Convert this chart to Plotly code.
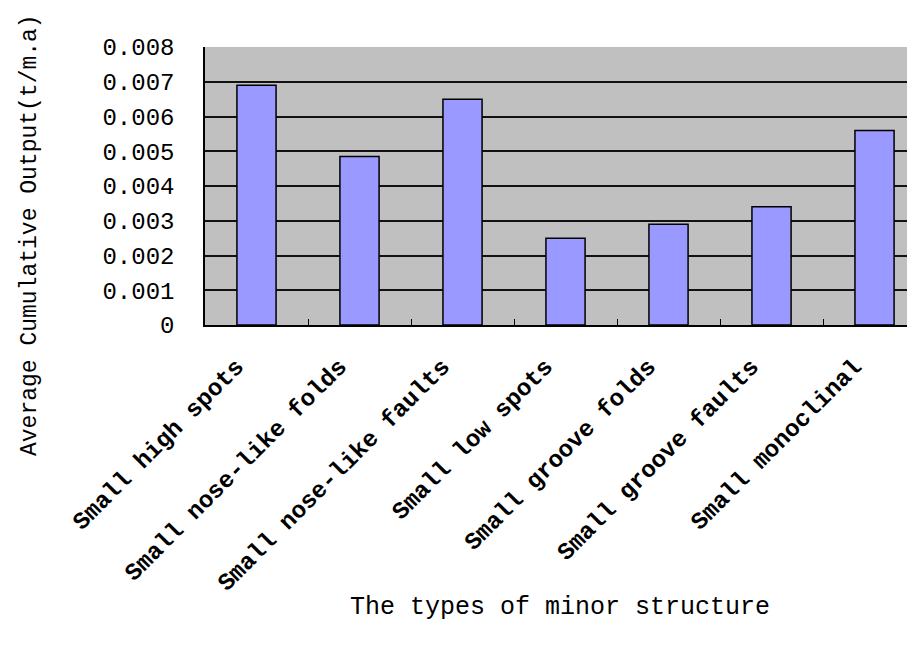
import plotly.graph_objects as go

categories = [
    "Small high spots",
    "Small nose-like folds",
    "Small nose-like faults",
    "Small low spots",
    "Small groove folds",
    "Small groove faults",
    "Small monoclinal",
]
values = [0.0069, 0.00485, 0.0065, 0.0025, 0.0029, 0.0034, 0.0056]
y_tickvals = [0, 0.001, 0.002, 0.003, 0.004, 0.005, 0.006, 0.007, 0.008]
y_ticktext = ["0", "0.001", "0.002", "0.003", "0.004", "0.005", "0.006", "0.007", "0.008"]
x_title = "The types of minor structure"
y_title = "Average Cumulative Output(t/m.a)"

MONO = "Liberation Mono, DejaVu Sans Mono, monospace"

# page body has an 8px default margin; figure is sized to compensate
fig = go.Figure(
    go.Bar(
        x=categories,
        y=values,
        width=0.38,
        marker=dict(color="#9999FF", line=dict(color="#000000", width=1.5)),
    )
)

fig.update_layout(
    width=907,
    height=644,
    margin=dict(l=197, r=0, t=39, b=327),
    paper_bgcolor="white",
    plot_bgcolor="#C0C0C0",
    showlegend=False,
    font=dict(family=MONO, color="#000000"),
    xaxis=dict(
        type="category",
        range=[-0.5, 6.393],
        tickangle=-45,
        tickfont=dict(family=MONO, size=24, color="#000000", weight="bold"),
        showline=True,
        linecolor="#000000",
        linewidth=1.5,
        ticks="inside",
        tickson="boundaries",
        ticklen=6,
        tickcolor="#000000",
        showgrid=False,
        zeroline=False,
        ticklabelstandoff=16,
        ticklabelshift=-20,
    ),
    yaxis=dict(
        range=[0, 0.008],
        tickvals=y_tickvals,
        ticktext=y_ticktext,
        tickfont=dict(family=MONO, size=24, color="#000000"),
        showline=True,
        linecolor="#000000",
        linewidth=1.5,
        showgrid=True,
        gridcolor="#111111",
        gridwidth=2,
        zeroline=False,
        ticks="",
        ticklabelstandoff=24,
    ),
    annotations=[
        dict(
            text=x_title,
            xref="paper", yref="paper",
            x=0.5, y=(325 - 607) / 278,
            xanchor="center", yanchor="middle",
            showarrow=False,
            font=dict(family=MONO, size=25, color="#000000"),
        ),
        dict(
            text=y_title,
            xref="paper", yref="paper",
            x=(30 - 205) / 710, y=(325 - 235) / 278,
            xanchor="center", yanchor="middle",
            textangle=-90,
            showarrow=False,
            font=dict(family=MONO, size=23, color="#000000"),
        ),
    ],
)

fig.write_html("out.html")
